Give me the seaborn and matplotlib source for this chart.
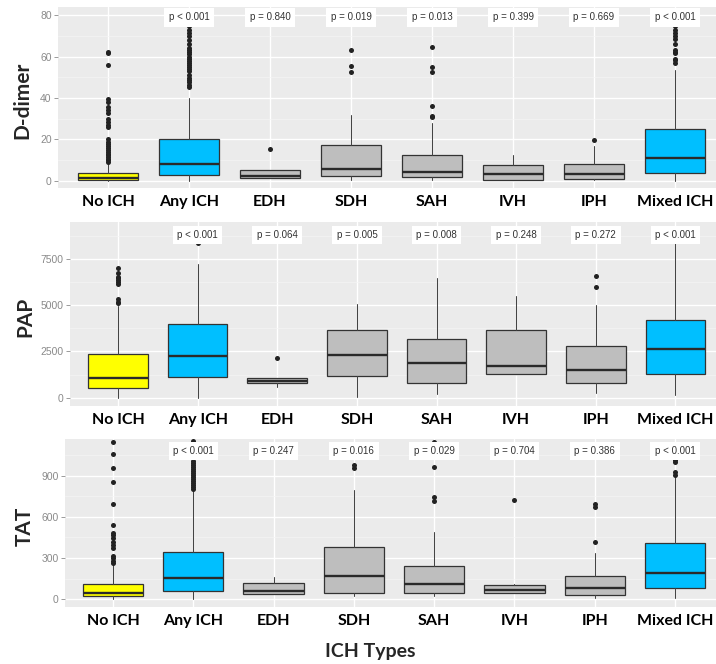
import matplotlib
matplotlib.use("Agg")
import matplotlib.pyplot as plt
import pandas as pd
import seaborn as sns

# ---- categories -------------------------------------------------------------
groups = ["No ICH", "Any ICH", "EDH", "SDH", "SAH", "IVH", "IPH", "Mixed ICH"]
group_colors = ["#FFFF00", "#00BFFF", "#BEBEBE", "#BEBEBE",
                "#BEBEBE", "#BEBEBE", "#BEBEBE", "#00BFFF"]

# ---- D-dimer summary statistics ----------------------------------------------
ddimer_q1 = [0.5, 2.9, 1.3, 2.6, 1.8, 0.5, 1.1, 3.7]
ddimer_med = [1.6, 8.2, 2.6, 5.8, 4.3, 3.2, 3.4, 10.9]
ddimer_q3 = [4.0, 20.1, 5.3, 17.3, 12.4, 7.7, 8.4, 24.9]
ddimer_lo = [0.0, 0.0, 1.3, 0.5, 0.5, 0.5, 0.5, 0.0]
ddimer_hi = [8.5, 39.8, 5.3, 31.8, 28.1, 12.4, 16.9, 53.5]
ddimer_out = [
    [9.2, 10, 10.8, 11.5, 12.3, 13, 14, 15, 16, 17, 18, 19, 20,
     25.9, 27, 28.6, 30, 33, 34, 35.8, 38, 39.5, 56, 61.5, 62],
    [45.5, 46.5, 47.5, 48.5, 49.5, 51, 53, 54, 55, 56, 57, 58, 59, 60,
     61, 62, 63, 64, 66, 68, 70, 71.5, 73, 74.7],
    [15.6],
    [52.7, 55.4, 63],
    [31, 31.5, 36.1, 52.7, 55, 64.7],
    [],
    [19.6],
    [56.7, 58.3, 59, 61.5, 62.3, 63, 66, 68.3, 70, 71.5, 73, 74.7],
]
ddimer_p = ["", "p < 0.001", "p = 0.840", "p = 0.019", "p = 0.013",
            "p = 0.399", "p = 0.669", "p < 0.001"]

# ---- PAP summary statistics --------------------------------------------------
pap_q1 = [505, 1136, 775, 1172, 775, 1262, 775, 1262]
pap_med = [1046, 2235, 901, 2308, 1857, 1713, 1496, 2614]
pap_q3 = [2362, 3966, 1046, 3660, 3173, 3660, 2794, 4182]
pap_lo = [0, 0, 595, 54, 180, 1262, 234, 144]
pap_hi = [4950, 7211, 1046, 5048, 6490, 5498, 5012, 8600]
pap_out = [
    [5100, 5200, 5350, 6150, 6250, 6350, 6450, 6550, 6750, 7000],
    [8350],
    [2127],
    [],
    [],
    [],
    [6003, 6580],
    [],
]
pap_p = ["", "p < 0.001", "p = 0.064", "p = 0.005", "p = 0.008",
         "p = 0.248", "p = 0.272", "p < 0.001"]

# ---- TAT summary statistics --------------------------------------------------
tat_q1 = [24.3, 63, 39, 48.5, 48.5, 44, 32, 80]
tat_med = [48.5, 158, 58, 172, 109, 68, 85, 194]
tat_q3 = [111.6, 347, 121, 378, 243, 102, 170, 408]
tat_lo = [0, 0, 39, 24, 24, 44, 7, 7]
tat_hi = [250, 796, 165, 796, 492, 112, 335, 917]
tat_out = [
    [262, 279, 298, 315, 371, 395, 420, 444, 468, 485, 543, 694, 851,
     953, 1058, 1146],
    [800, 815, 830, 845, 860, 875, 890, 905, 920, 935, 950, 965, 980,
     995, 1010, 1150],
    [],
    [953, 978],
    [716, 747, 965, 1148],
    [723],
    [420, 674, 694],
    [905, 925, 997, 1014],
]
tat_p = ["", "p < 0.001", "p = 0.247", "p = 0.016", "p = 0.029",
         "p = 0.704", "p = 0.386", "p < 0.001"]

# ---- styling -----------------------------------------------------------------
sns.set_theme(style="darkgrid", rc={
    "axes.facecolor": "#EBEBEB",
    "grid.color": "white",
    "figure.facecolor": "white",
})
plt.rcParams["font.family"] = ["Lato", "DejaVu Sans"]

fig = plt.figure(figsize=(7.16, 6.64), dpi=100)
W, H = 716, 664


def px_axes(x0, y0, x1, y1):
    return fig.add_axes([x0 / W, 1 - y1 / H, (x1 - x0) / W, (y1 - y0) / H])


panels = [
    dict(name="D-dimer", q1=ddimer_q1, med=ddimer_med, q3=ddimer_q3,
         lo=ddimer_lo, hi=ddimer_hi, out=ddimer_out, p=ddimer_p,
         box=(58, 7, 716, 188), xlim=(-0.617, 7.506), ylim=(-3.4, 83.9),
         major=[0, 20, 40, 60, 80], minor=[10, 30, 50, 70], p_y=79,
         tick_fmt="{:g}", ylab_x=22),
    dict(name="PAP", q1=pap_q1, med=pap_med, q3=pap_q3,
         lo=pap_lo, hi=pap_hi, out=pap_out, p=pap_p,
         box=(70, 222, 716, 406), xlim=(-0.603, 7.51), ylim=(-450, 9500),
         major=[0, 2500, 5000, 7500], minor=[1250, 3750, 6250, 8750],
         p_y=8800, tick_fmt="{:g}", ylab_x=25),
    dict(name="TAT", q1=tat_q1, med=tat_med, q3=tat_q3,
         lo=tat_lo, hi=tat_hi, out=tat_out, p=tat_p,
         box=(65, 439, 716, 607), xlim=(-0.598, 7.51), ylim=(-56, 1167),
         major=[0, 300, 600, 900], minor=[150, 450, 750, 1050],
         p_y=1080, tick_fmt="{:g}", ylab_x=25),
]

for pn in panels:
    ax = px_axes(*pn["box"])
    ax.set_axisbelow(True)

    stats = []
    for i, g in enumerate(groups):
        stats.append(dict(label=g, med=pn["med"][i], q1=pn["q1"][i],
                          q3=pn["q3"][i], whislo=pn["lo"][i],
                          whishi=pn["hi"][i], fliers=[]))
    bp = ax.bxp(stats, positions=range(len(groups)), widths=0.75,
                patch_artist=True, showfliers=False, showcaps=False,
                boxprops=dict(edgecolor="#333333", linewidth=0.9),
                medianprops=dict(color="#2A2A2A", linewidth=1.7),
                whiskerprops=dict(color="#444444", linewidth=0.75),
                manage_ticks=False)
    for patch, col in zip(bp["boxes"], group_colors):
        patch.set_facecolor(col)

    # outlier points
    rows = [(i, v) for i, vals in enumerate(pn["out"]) for v in vals]
    df = pd.DataFrame(rows, columns=["pos", "value"])
    sns.scatterplot(data=df, x="pos", y="value", color="#222222", s=13,
                    linewidth=0, ax=ax, zorder=4, legend=False)

    ax.set_xlim(*pn["xlim"])
    ax.set_ylim(*pn["ylim"])
    ax.set_xticks(range(len(groups)))
    ax.set_xticklabels(groups, fontweight="bold", fontsize=11.5,
                       color="black")
    ax.set_yticks(pn["major"])
    ax.set_yticklabels([pn["tick_fmt"].format(v) for v in pn["major"]],
                       fontsize=7.5, color="#8A8A8A",
                       family=["Liberation Sans", "DejaVu Sans"])
    ax.set_yticks(pn["minor"], minor=True)
    ax.grid(which="major", color="white", linewidth=1.0)
    ax.grid(which="minor", axis="y", color="#F5F5F5", linewidth=0.5)
    ax.tick_params(axis="y", which="major", length=3, width=0.6,
                   color="#8A8A8A", pad=1.5, left=True)
    ax.tick_params(axis="y", which="minor", length=0)
    ax.tick_params(axis="x", length=0, pad=5)
    for s in ax.spines.values():
        s.set_visible(False)
    ax.set_xlabel("")
    ax.set_ylabel("")

    # p-value annotations
    for i, txt in enumerate(pn["p"]):
        if txt:
            ax.text(i, pn["p_y"], txt, ha="center", va="center",
                    fontsize=7, color="#333333", zorder=6,
                    family=["Liberation Sans", "DejaVu Sans"],
                    bbox=dict(facecolor="white", edgecolor="none",
                              boxstyle="square,pad=0.45"))

    y0, y1 = pn["box"][1], pn["box"][3]
    fig.text(pn["ylab_x"] / W, 1 - ((y0 + y1) / 2 + 3) / H, pn["name"],
             rotation=90, ha="center", va="center", fontsize=15,
             fontweight="bold")

fig.text(370 / W, 1 - 652 / H, "ICH Types", ha="center", va="center",
         fontsize=14, fontweight="bold")

fig.savefig("out.png", dpi=100)
